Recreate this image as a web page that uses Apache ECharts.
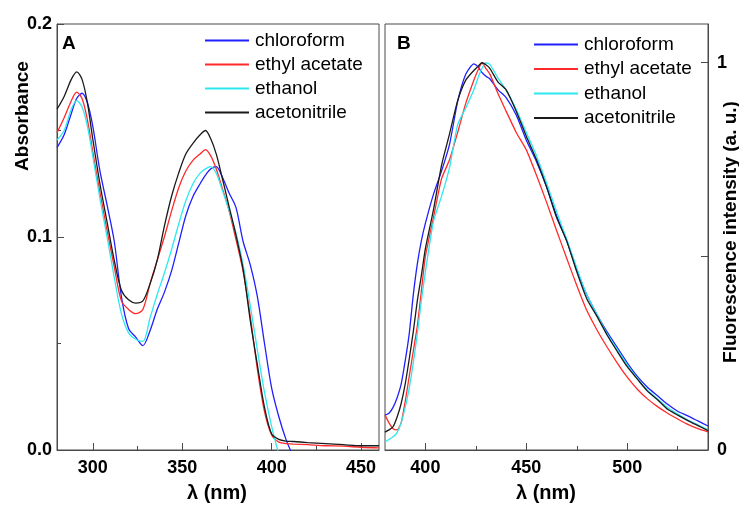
<!DOCTYPE html>
<html>
<head>
<meta charset="utf-8">
<script src="https://cdn.jsdelivr.net/npm/echarts@6/dist/echarts.min.js"></script>
<style>html,body{margin:0;padding:0;background:#fff;}#c{width:739px;height:506px;}</style>
</head>
<body>
<div id="c"></div>
<script>
// ---- Data ----
const seriesNames = ['chloroform', 'ethyl acetate', 'ethanol', 'acetonitrile'];

// Panel A: absorbance
const absWavelength = [280,284,288,291,294,297,300,304,308,312,316,320,324,328,332,336,340,344,348,352,356,360,363,366,369,372,376,380,384,388,392,396,400,404,408,412,420,430,440,450,460];
const absChloroform = [0.142,0.148,0.158,0.165,0.1675,0.163,0.152,0.131,0.115,0.098,0.072,0.057,0.053,0.049,0.056,0.066,0.074,0.084,0.097,0.110,0.119,0.125,0.129,0.132,0.133,0.129,0.121,0.114,0.098,0.087,0.072,0.050,0.029,0.0156,0.005,-0.003];
const absEthylAcetate = [0.149,0.156,0.164,0.168,0.165,0.155,0.140,0.121,0.103,0.086,0.070,0.066,0.064,0.066,0.078,0.089,0.100,0.112,0.123,0.131,0.136,0.139,0.141,0.138,0.132,0.124,0.113,0.099,0.084,0.063,0.038,0.018,0.007,0.0037,0.003,0.0028,0.0025,0.002,0.0018,0.0013,0.001];
const absEthanol = [0.1455,0.150,0.160,0.164,0.161,0.152,0.138,0.118,0.100,0.081,0.064,0.055,0.052,0.051,0.062,0.073,0.083,0.094,0.106,0.117,0.125,0.130,0.132,0.133,0.130,0.123,0.113,0.102,0.087,0.068,0.047,0.027,0.011,-0.002];
const absAcetonitrile = [0.160,0.166,0.174,0.1775,0.174,0.163,0.146,0.125,0.107,0.089,0.075,0.0705,0.069,0.070,0.078,0.089,0.105,0.119,0.130,0.139,0.144,0.148,0.150,0.146,0.139,0.129,0.115,0.101,0.085,0.061,0.040,0.020,0.0075,0.005,0.0042,0.004,0.0035,0.003,0.0025,0.002,0.002];

// Panel B: normalised fluorescence
const flWavelength = [380,382,384,386,388,390,392,394,396,398,400,404,408,412,416,420,424,426,428,430,432,436,440,445,450,455,460,465,470,475,480,485,490,495,500,505,510,515,520,525,530,535,540];
const flChloroform = [0.090,0.095,0.110,0.135,0.170,0.230,0.300,0.400,0.480,0.540,0.585,0.660,0.720,0.790,0.900,0.970,0.997,0.990,0.975,0.965,0.958,0.930,0.910,0.865,0.800,0.745,0.680,0.605,0.540,0.465,0.400,0.350,0.305,0.265,0.225,0.190,0.162,0.140,0.118,0.100,0.088,0.075,0.062];
const flEthylAcetate = [0.090,0.070,0.055,0.052,0.070,0.125,0.190,0.255,0.320,0.410,0.500,0.600,0.700,0.750,0.820,0.895,0.955,0.980,1.000,0.985,0.970,0.920,0.875,0.820,0.775,0.710,0.640,0.567,0.495,0.425,0.360,0.310,0.266,0.225,0.188,0.157,0.132,0.112,0.095,0.080,0.066,0.055,0.047];
const flEthanol = [0.021,0.027,0.034,0.045,0.070,0.110,0.160,0.225,0.300,0.385,0.460,0.590,0.655,0.730,0.840,0.883,0.930,0.960,0.985,1.000,0.995,0.960,0.930,0.880,0.820,0.760,0.690,0.615,0.545,0.470,0.400,0.350,0.300,0.260,0.220,0.185,0.155,0.132,0.110,0.093,0.077,0.065,0.052];
const flAcetonitrile = [0.046,0.052,0.060,0.085,0.120,0.170,0.235,0.305,0.385,0.450,0.520,0.620,0.735,0.817,0.902,0.955,0.980,0.990,1.000,0.995,0.985,0.950,0.930,0.875,0.810,0.750,0.680,0.600,0.540,0.460,0.390,0.345,0.297,0.255,0.215,0.183,0.152,0.130,0.105,0.090,0.076,0.063,0.050];

// Axis ticks
const absXMajor = [300, 350, 400, 450];
const absXMinor = [325, 375, 425];
const flXMajor = [400, 450, 500];
const flXMinor = [425, 475, 525];

// ---- Build ----
const colors = ['#1f1fff', '#ff2a2a', '#2ee8f0', '#1a1a1a'];
function pairs(xs, ys) { return ys.map((y, i) => [xs[i], y]); }
const absSets = [absChloroform, absEthylAcetate, absEthanol, absAcetonitrile];
const flSets = [flChloroform, flEthylAcetate, flEthanol, flAcetonitrile];

const FONT = 'Liberation Sans, Arial, sans-serif';
const frame = '#4a4a4a';
const tickLabel = { fontFamily: FONT, fontSize: 18, fontWeight: 'bold', color: '#000' };

function xAxisPair(grid, min, max, major, minor) {
  return [
    { type: 'value', gridIndex: grid, min: min, max: max,
      axisLine: { show: true, lineStyle: { color: frame, width: 1 } },
      axisTick: { show: true, inside: true, length: 7, customValues: major, lineStyle: { color: frame } },
      axisLabel: Object.assign({ margin: 9, customValues: major }, tickLabel),
      splitLine: { show: false } },
    { type: 'value', gridIndex: grid, min: min, max: max, position: 'bottom',
      axisLine: { show: false },
      axisTick: { show: true, inside: true, length: 4, customValues: minor, lineStyle: { color: frame } },
      axisLabel: { show: false }, splitLine: { show: false } }
  ];
}

const series = [];
seriesNames.forEach((n, i) => {
  series.push({ name: n, type: 'line', xAxisIndex: 0, yAxisIndex: 0, data: pairs(absWavelength, absSets[i]),
    symbol: 'none', smooth: 0.3, clip: true, lineStyle: { width: 1.3, color: colors[i] }, itemStyle: { color: colors[i] } });
});
seriesNames.forEach((n, i) => {
  series.push({ name: n, type: 'line', xAxisIndex: 2, yAxisIndex: 1, data: pairs(flWavelength, flSets[i]),
    symbol: 'none', smooth: 0.2, clip: true, lineStyle: { width: 1.3, color: colors[i] }, itemStyle: { color: colors[i] } });
});

const legendBase = {
  orient: 'vertical', itemWidth: 44, itemHeight: 14, itemGap: 5, padding: 0,
  selectedMode: false,
  itemStyle: { opacity: 0, color: 'transparent', borderWidth: 0 },
  textStyle: { fontFamily: FONT, fontSize: 19, color: '#000', padding: [0, 0, 0, 1] },
  data: seriesNames.slice()
};

const option = {
  animation: false,
  grid: [
    { left: 57, top: 24, width: 322, height: 426, show: true, borderColor: frame, borderWidth: 1, backgroundColor: 'transparent' },
    { left: 385, top: 24, width: 323, height: 426, show: true, borderColor: frame, borderWidth: 1, backgroundColor: 'transparent' }
  ],
  xAxis: [].concat(xAxisPair(0, 280, 460, absXMajor, absXMinor), xAxisPair(1, 380, 540, flXMajor, flXMinor)),
  yAxis: [
    { type: 'value', gridIndex: 0, min: 0, max: 0.2, interval: 0.1,
      axisLine: { show: true, lineStyle: { color: frame } },
      axisTick: { show: true, inside: true, length: 7, lineStyle: { color: frame } },
      minorTick: { show: true, splitNumber: 2, length: 4, lineStyle: { color: frame } },
      axisLabel: Object.assign({ margin: 5, formatter: v => v.toFixed(1) }, tickLabel),
      splitLine: { show: false } },
    { type: 'value', gridIndex: 1, position: 'right', min: 0, max: 1.1, interval: 0.5,
      axisLine: { show: true, lineStyle: { color: frame } },
      axisTick: { show: true, inside: true, length: 7, lineStyle: { color: frame } },
      axisLabel: Object.assign({ margin: 9, showMaxLabel: false, formatter: v => (v === 0 ? '0' : (Math.abs(v - 1) < 1e-9 ? '1' : '')) }, tickLabel),
      splitLine: { show: false } }
  ],
  legend: [
    Object.assign({}, legendBase, { left: 204, top: 31 }),
    Object.assign({}, legendBase, { left: 533, top: 35, itemGap: 5.5 })
  ],
  graphic: [
    { type: 'text', x: 62, y: 34, style: { text: 'A', fontFamily: FONT, fontSize: 19, fontWeight: 'bold', fill: '#000' } },
    { type: 'text', x: 397, y: 34, style: { text: 'B', fontFamily: FONT, fontSize: 19, fontWeight: 'bold', fill: '#000' } },
    { type: 'text', x: 23, y: 116, rotation: Math.PI / 2,
      style: { text: 'Absorbance', fontFamily: FONT, fontSize: 19, fontWeight: 'bold', fill: '#000', textAlign: 'center', textVerticalAlign: 'middle' } },
    { type: 'text', x: 731, y: 232, rotation: Math.PI / 2,
      style: { text: 'Fluorescence intensity (a. u.)', fontFamily: FONT, fontSize: 19, fontWeight: 'bold', fill: '#000', textAlign: 'center', textVerticalAlign: 'middle' } },
    { type: 'text', x: 217, y: 493,
      style: { text: 'λ (nm)', fontFamily: FONT, fontSize: 20, fontWeight: 'bold', fill: '#000', textAlign: 'center', textVerticalAlign: 'middle' } },
    { type: 'text', x: 546, y: 493,
      style: { text: 'λ (nm)', fontFamily: FONT, fontSize: 20, fontWeight: 'bold', fill: '#000', textAlign: 'center', textVerticalAlign: 'middle' } }
  ],
  series: series
};

const chart = echarts.init(document.getElementById('c'), null, { renderer: 'canvas' });
chart.setOption(option);
</script>
</body>
</html>
